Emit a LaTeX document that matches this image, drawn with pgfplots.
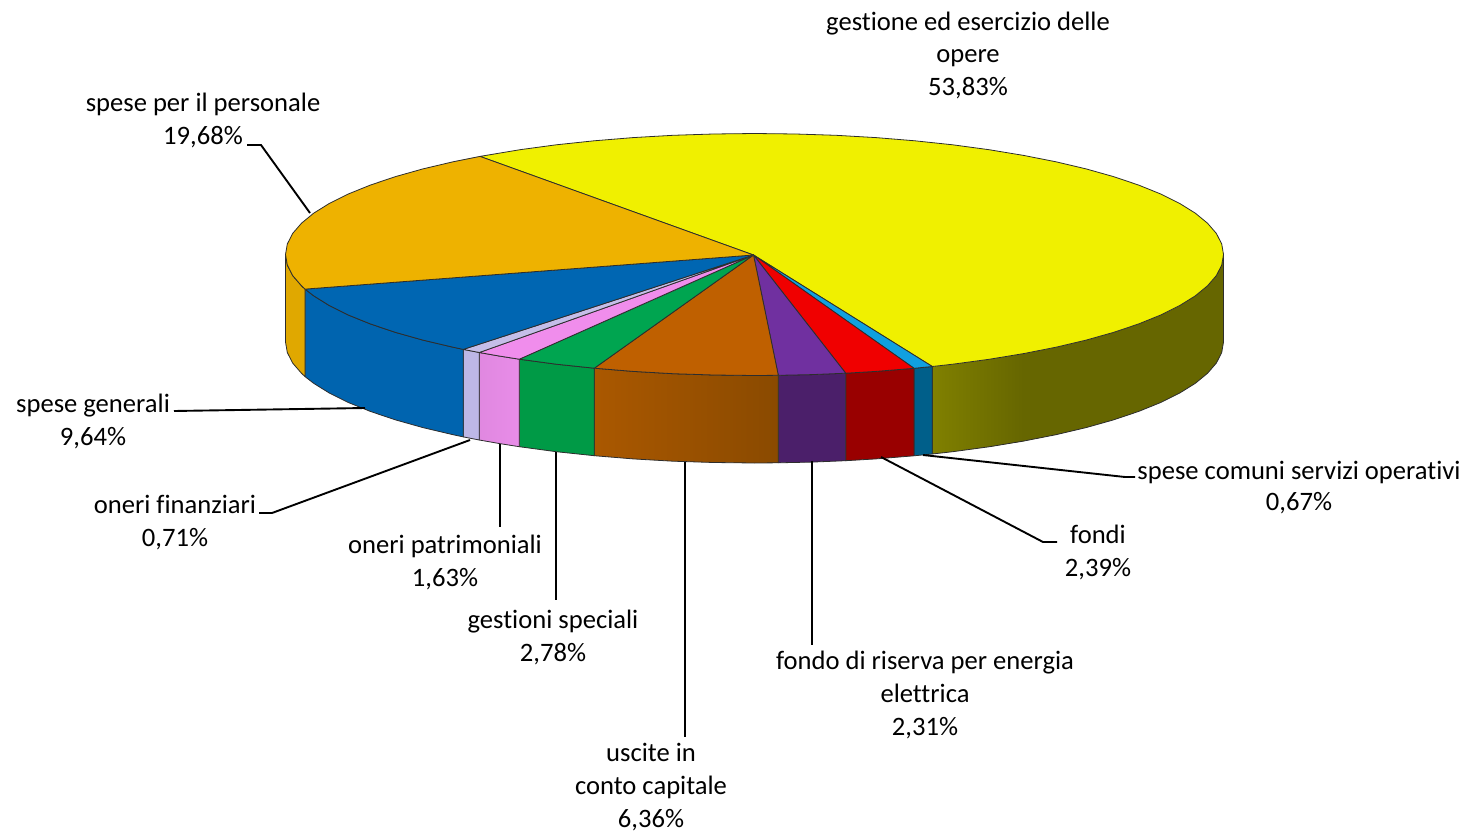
\documentclass[border=0pt]{standalone}
\usepackage{pgfplots}
\usepackage{fontspec}
\setmainfont{Carlito}[Ligatures=NoCommon]
\pgfplotsset{compat=1.18}
\definecolor{tyellow}{RGB}{240,240,0}
\definecolor{torange}{RGB}{238,178,0}
\definecolor{tblue}{RGB}{0,102,178}
\definecolor{tlav}{RGB}{197,190,232}
\definecolor{tpink}{RGB}{240,141,236}
\definecolor{tgreen}{RGB}{0,165,80}
\definecolor{tbrown}{RGB}{191,96,0}
\definecolor{tpurple}{RGB}{112,48,160}
\definecolor{tred}{RGB}{240,0,0}
\definecolor{tsky}{RGB}{16,160,224}
\definecolor{syellowa}{RGB}{128,128,0}
\definecolor{syellowb}{RGB}{102,102,0}
\definecolor{sorange}{RGB}{224,168,0}
\definecolor{sblue}{RGB}{0,100,175}
\definecolor{slav}{RGB}{189,183,230}
\definecolor{spinka}{RGB}{224,136,224}
\definecolor{spinkb}{RGB}{232,140,232}
\definecolor{sgreen}{RGB}{0,154,70}
\definecolor{sbrowna}{RGB}{170,88,0}
\definecolor{sbrownb}{RGB}{138,74,0}
\definecolor{spurple}{RGB}{75,31,106}
\definecolor{sred}{RGB}{153,0,0}
\definecolor{ssky}{RGB}{0,95,138}
\definecolor{edge}{RGB}{45,45,45}
\newcommand{\lab}[3]{\node[anchor=base,inner sep=0pt,font=\fontsize{26.7}{31}\selectfont] at (axis cs:#1,#2) {#3};}
\begin{document}
\begin{tikzpicture}
\path[use as bounding box] (0,0) rectangle (1473bp,832bp);
\begin{axis}[
  at={(0,0)},anchor=south west,
  scale only axis,width=1473bp,height=832bp,
  xmin=0,xmax=1473,ymin=0,ymax=832,y dir=reverse,
  hide axis,clip=false,
  every axis plot/.append style={line width=0.8pt,line join=round,draw=edge}]
% --- sides ---
\addplot[fill=syellowb,draw=none] coordinates {(989,359.3)(1023.5,353.6)(1056,347.2)(1086.1,340.1)(1113.8,332.3)(1138.7,323.9)(1160.7,315)(1179.6,305.6)(1195.2,295.9)(1207.5,285.8)(1216.4,275.5)(1221.7,265)(1223.5,254.5)(1223.5,342)(1221.7,352.5)(1216.4,363)(1207.5,373.3)(1195.2,383.4)(1179.6,393.1)(1160.7,402.5)(1138.7,411.4)(1113.8,419.8)(1086.1,427.6)(1056,434.7)(1023.5,441.1)(989,446.8)} -- cycle;
\addplot[left color=syellowa,right color=syellowb,draw=none] coordinates {(932.3,366.5)(952.7,364.2)(989,359.3)(1023.5,353.6)(1023.5,441.1)(989,446.8)(952.7,451.7)(932.3,454)} -- cycle;
\addplot[draw=edge] coordinates {(932.3,366.5)(932.3,454)(952.7,451.7)(989,446.8)(1023.5,441.1)(1056,434.7)(1086.1,427.6)(1113.8,419.8)(1138.7,411.4)(1160.7,402.5)(1179.6,393.1)(1195.2,383.4)(1207.5,373.3)(1216.4,363)(1221.7,352.5)(1223.5,342)(1223.5,254.5)};
\addplot[fill=ssky] coordinates {(914,368.3)(932.3,366.5)(932.3,454)(914,455.8)} -- cycle;
\addplot[fill=sred] coordinates {(845.7,373.2)(875.9,371.4)(914,368.3)(914,455.8)(875.9,458.9)(845.7,460.7)} -- cycle;
\addplot[fill=spurple] coordinates {(778.3,375.3)(811.7,374.6)(845.7,373.2)(845.7,460.7)(811.7,462.1)(778.3,462.8)} -- cycle;
\addplot[left color=sbrowna,right color=sbrownb] coordinates {(594.3,368.2)(633.1,371.4)(673.1,373.7)(713.6,375)(754.5,375.5)(778.3,375.3)(778.3,462.8)(754.5,463)(713.6,462.5)(673.1,461.2)(633.1,458.9)(594.3,455.7)} -- cycle;
\addplot[fill=sgreen] coordinates {(519.3,359.2)(556.3,364.2)(594.3,368.2)(594.3,455.7)(556.3,451.7)(519.3,446.7)} -- cycle;
\addplot[left color=spinka,right color=spinkb] coordinates {(479.3,352.5)(499.1,356)(519.3,359.2)(519.3,446.7)(499.1,443.5)(479.3,440)} -- cycle;
\addplot[fill=slav] coordinates {(463.3,349.4)(479.3,352.5)(479.3,440)(463.3,436.9)} -- cycle;
\addplot[fill=sblue] coordinates {(305,289.1)(313.8,295.9)(329.4,305.6)(348.3,315)(370.3,323.9)(395.2,332.3)(422.9,340.1)(453,347.2)(463.3,349.4)(463.3,436.9)(453,434.7)(422.9,427.6)(395.2,419.8)(370.3,411.4)(348.3,402.5)(329.4,393.1)(313.8,383.4)(305,376.6)} -- cycle;
\addplot[fill=sorange] coordinates {(285.5,254.5)(287.3,265)(292.6,275.5)(301.5,285.8)(305,289.1)(305,376.6)(301.5,373.3)(292.6,363)(287.3,352.5)(285.5,342)} -- cycle;
% --- top ---
\addplot[fill=tyellow] coordinates {(753.5,255)(480,156.4)(520,149.7)(556.3,144.8)(594.1,140.8)(633.1,137.6)(673.1,135.3)(713.6,134)(754.5,133.5)(795.4,134)(835.9,135.3)(875.9,137.6)(914.9,140.8)(952.7,144.8)(989,149.7)(1023.5,155.4)(1056,161.8)(1086.1,168.9)(1113.8,176.7)(1138.7,185.1)(1160.7,194)(1179.6,203.4)(1195.2,213.1)(1207.5,223.2)(1216.4,233.5)(1221.7,244)(1223.5,254.5)(1221.7,265)(1216.4,275.5)(1207.5,285.8)(1195.2,295.9)(1179.6,305.6)(1160.7,315)(1138.7,323.9)(1113.8,332.3)(1086.1,340.1)(1056,347.2)(1023.5,353.6)(989,359.3)(952.7,364.2)(932.3,366.5)} -- cycle;
\addplot[fill=tsky] coordinates {(753.5,255)(932.3,366.5)(914,368.3)} -- cycle;
\addplot[fill=tred] coordinates {(753.5,255)(914,368.3)(875.9,371.4)(845.7,373.2)} -- cycle;
\addplot[fill=tpurple] coordinates {(753.5,255)(845.7,373.2)(811.7,374.6)(778.3,375.3)} -- cycle;
\addplot[fill=tbrown] coordinates {(753.5,255)(778.3,375.3)(754.5,375.5)(713.6,375)(673.1,373.7)(633.1,371.4)(594.3,368.2)} -- cycle;
\addplot[fill=tgreen] coordinates {(753.5,255)(594.3,368.2)(556.3,364.2)(519.3,359.2)} -- cycle;
\addplot[fill=tpink] coordinates {(753.5,255)(519.3,359.2)(499.1,356)(479.3,352.5)} -- cycle;
\addplot[fill=tlav] coordinates {(753.5,255)(479.3,352.5)(463.3,349.4)} -- cycle;
\addplot[fill=tblue] coordinates {(753.5,255)(463.3,349.4)(453,347.2)(422.9,340.1)(395.2,332.3)(370.3,323.9)(348.3,315)(329.4,305.6)(313.8,295.9)(305,289.1)} -- cycle;
\addplot[fill=torange] coordinates {(753.5,255)(305,289.1)(301.5,285.8)(292.6,275.5)(287.3,265)(285.5,254.5)(287.3,244)(292.6,233.5)(301.5,223.2)(313.8,213.1)(329.4,203.4)(348.3,194)(370.3,185.1)(395.2,176.7)(422.9,168.9)(453,161.8)(480,156.4)} -- cycle;
% --- leader lines ---
\addplot[black,line width=1.9pt,line join=miter] coordinates {(247,145)(261,145)(310,213)};
\addplot[black,line width=1.9pt] coordinates {(174,411)(365,408)};
\addplot[black,line width=1.9pt,line join=miter] coordinates {(259,513)(272,513)(470,440)};
\addplot[black,line width=1.9pt] coordinates {(500,444)(500,527)};
\addplot[black,line width=1.9pt] coordinates {(556,452)(556,600)};
\addplot[black,line width=1.9pt] coordinates {(685,462)(685,737)};
\addplot[black,line width=1.9pt] coordinates {(812,461)(812,645)};
\addplot[black,line width=1.9pt,line join=miter] coordinates {(1057,542)(1043,542)(881,457)};
\addplot[black,line width=1.9pt,line join=miter] coordinates {(1135,477)(1125,477)(923,455)};
% --- labels ---
\lab{968}{31}{gestione ed esercizio delle}
\lab{968}{63}{opere}
\lab{968}{96}{53,83\%}
\lab{203}{112}{spese per il personale}
\lab{203}{145}{19,68\%}
\lab{93}{412}{spese generali}
\lab{93}{445}{9,64\%}
\lab{175}{513}{oneri finanziari}
\lab{175}{546}{0,71\%}
\lab{445}{553}{oneri patrimoniali}
\lab{445}{586}{1,63\%}
\lab{553}{628}{gestioni speciali}
\lab{553}{661}{2,78\%}
\lab{651}{761}{uscite in}
\lab{651}{794}{conto capitale}
\lab{651}{827}{6,36\%}
\lab{925}{669}{fondo di riserva per energia}
\lab{925}{702}{elettrica}
\lab{925}{735}{2,31\%}
\lab{1098}{543}{fondi}
\lab{1098}{576}{2,39\%}
\lab{1299}{479}{spese comuni servizi operativi}
\lab{1299}{510}{0,67\%}
\end{axis}
\end{tikzpicture}
\end{document}
